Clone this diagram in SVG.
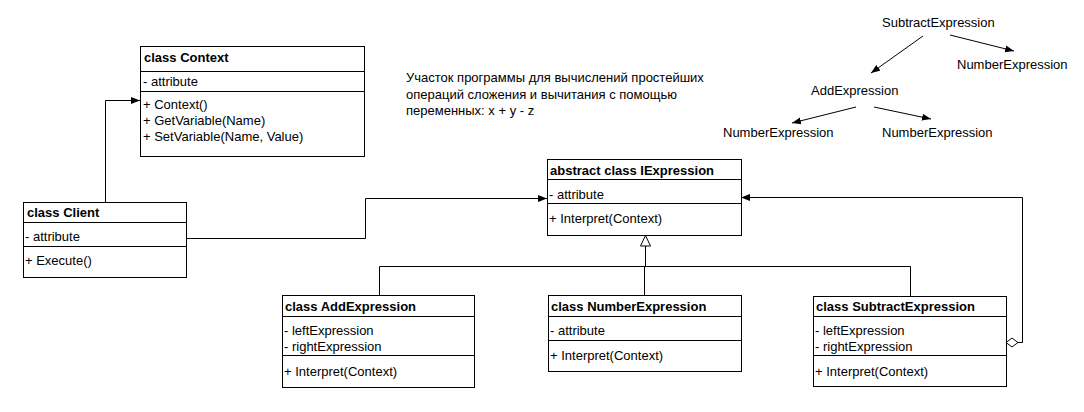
<svg xmlns="http://www.w3.org/2000/svg" width="1084" height="412" viewBox="0 0 1084 412">
<style>
.box{fill:#fff;stroke:#000;stroke-width:1}
.sep{stroke:#000;stroke-width:1}
.t{font-family:"Liberation Sans",Arial,sans-serif;font-size:13px;fill:#000}
.h{font-family:"Liberation Sans",Arial,sans-serif;font-size:13px;font-weight:bold;fill:#000}
.n{font-family:"Liberation Sans",Arial,sans-serif;font-size:13px;fill:#000}
.c{fill:none;stroke:#000;stroke-width:1}
</style>
<defs>
<marker id="arr" markerUnits="userSpaceOnUse" markerWidth="10" markerHeight="8" refX="9" refY="4" orient="auto">
<path d="M0,0.5 L9,4 L0,7.5 Z" fill="#000"/>
</marker>
</defs>
<rect width="1084" height="412" fill="#fff"/>

<g id="connectors">
<path class="c" d="M105.5,202 V100.5 H140" marker-end="url(#arr)"/>
<path class="c" d="M186,238.5 H365.5 V198.5 H547" marker-end="url(#arr)"/>
<path class="c" d="M1018,342.5 H1022.5 V197.5 H741" marker-end="url(#arr)"/>
<path d="M1006,342.5 L1012,338 L1018,342.5 L1012,347 Z" fill="#fff" stroke="#000"/>
<path class="c" d="M645.5,246 V266.5"/>
<path class="c" d="M379.5,295 V266.5 H910.5 V296"/>
<path class="c" d="M644.5,266.5 V295"/>
<path d="M645.5,235.5 L650.5,246 L640.5,246 Z" fill="#fff" stroke="#000"/>
<line class="c" x1="923" y1="36" x2="871" y2="73" marker-end="url(#arr)"/>
<line class="c" x1="950" y1="35" x2="1014" y2="51" marker-end="url(#arr)"/>
<line class="c" x1="856" y1="107" x2="792" y2="123" marker-end="url(#arr)"/>
<line class="c" x1="874" y1="107" x2="931" y2="119" marker-end="url(#arr)"/>
</g>

<g id="context">
<rect class="box" x="140.5" y="46.5" width="224" height="110"/>
<line class="sep" x1="140.5" y1="71.5" x2="364.5" y2="71.5"/>
<line class="sep" x1="140.5" y1="91.5" x2="364.5" y2="91.5"/>
<text class="h" x="144" y="62">class Context</text>
<text class="t" x="143" y="86">- attribute</text>
<text class="t" x="143" y="108.5">+ Context()</text>
<text class="t" x="143" y="124.5">+ GetVariable(Name)</text>
<text class="t" x="143" y="140.5">+ SetVariable(Name, Value)</text>
</g>

<g id="client">
<rect class="box" x="23.5" y="202.5" width="163" height="75"/>
<line class="sep" x1="23.5" y1="222.5" x2="186.5" y2="222.5"/>
<line class="sep" x1="23.5" y1="246.5" x2="186.5" y2="246.5"/>
<text class="h" x="27" y="217">class Client</text>
<text class="t" x="25" y="240.5">- attribute</text>
<text class="t" x="25" y="265">+ Execute()</text>
</g>

<g id="iexpression">
<rect class="box" x="547.5" y="159.5" width="194" height="76"/>
<line class="sep" x1="547.5" y1="179.5" x2="741.5" y2="179.5"/>
<line class="sep" x1="547.5" y1="203.5" x2="741.5" y2="203.5"/>
<text class="h" x="550" y="175">abstract class IExpression</text>
<text class="t" x="549" y="198.5">- attribute</text>
<text class="t" x="549" y="223">+ Interpret(Context)</text>
</g>

<g id="addexpression">
<rect class="box" x="282.5" y="295.5" width="192" height="92"/>
<line class="sep" x1="282.5" y1="316.5" x2="474.5" y2="316.5"/>
<line class="sep" x1="282.5" y1="355.5" x2="474.5" y2="355.5"/>
<text class="h" x="285" y="311">class AddExpression</text>
<text class="t" x="284" y="335">- leftExpression</text>
<text class="t" x="284" y="351">- rightExpression</text>
<text class="t" x="284" y="376">+ Interpret(Context)</text>
</g>

<g id="numberexpression">
<rect class="box" x="548.5" y="295.5" width="193" height="76"/>
<line class="sep" x1="548.5" y1="316.5" x2="741.5" y2="316.5"/>
<line class="sep" x1="548.5" y1="340.5" x2="741.5" y2="340.5"/>
<text class="h" x="551" y="311">class NumberExpression</text>
<text class="t" x="550" y="335">- attribute</text>
<text class="t" x="550" y="359.5">+ Interpret(Context)</text>
</g>

<g id="subtractexpression">
<rect class="box" x="813.5" y="296.5" width="193" height="90"/>
<line class="sep" x1="813.5" y1="316.5" x2="1006.5" y2="316.5"/>
<line class="sep" x1="813.5" y1="355.5" x2="1006.5" y2="355.5"/>
<text class="h" x="816" y="311">class SubtractExpression</text>
<text class="t" x="815" y="335">- leftExpression</text>
<text class="t" x="815" y="351">- rightExpression</text>
<text class="t" x="815" y="376">+ Interpret(Context)</text>
</g>

<g id="description">
<text class="t" x="406" y="82">Участок программы для вычислений простейших</text>
<text class="t" x="406" y="98.5">операций сложения и вычитания с помощью</text>
<text class="t" x="406" y="115">переменных: x + y - z</text>
</g>

<g id="tree">
<text class="n" x="882" y="27">SubtractExpression</text>
<text class="n" x="957" y="68.5">NumberExpression</text>
<text class="n" x="811" y="95">AddExpression</text>
<text class="n" x="723" y="136.5">NumberExpression</text>
<text class="n" x="882" y="136.5">NumberExpression</text>
</g>
</svg>
